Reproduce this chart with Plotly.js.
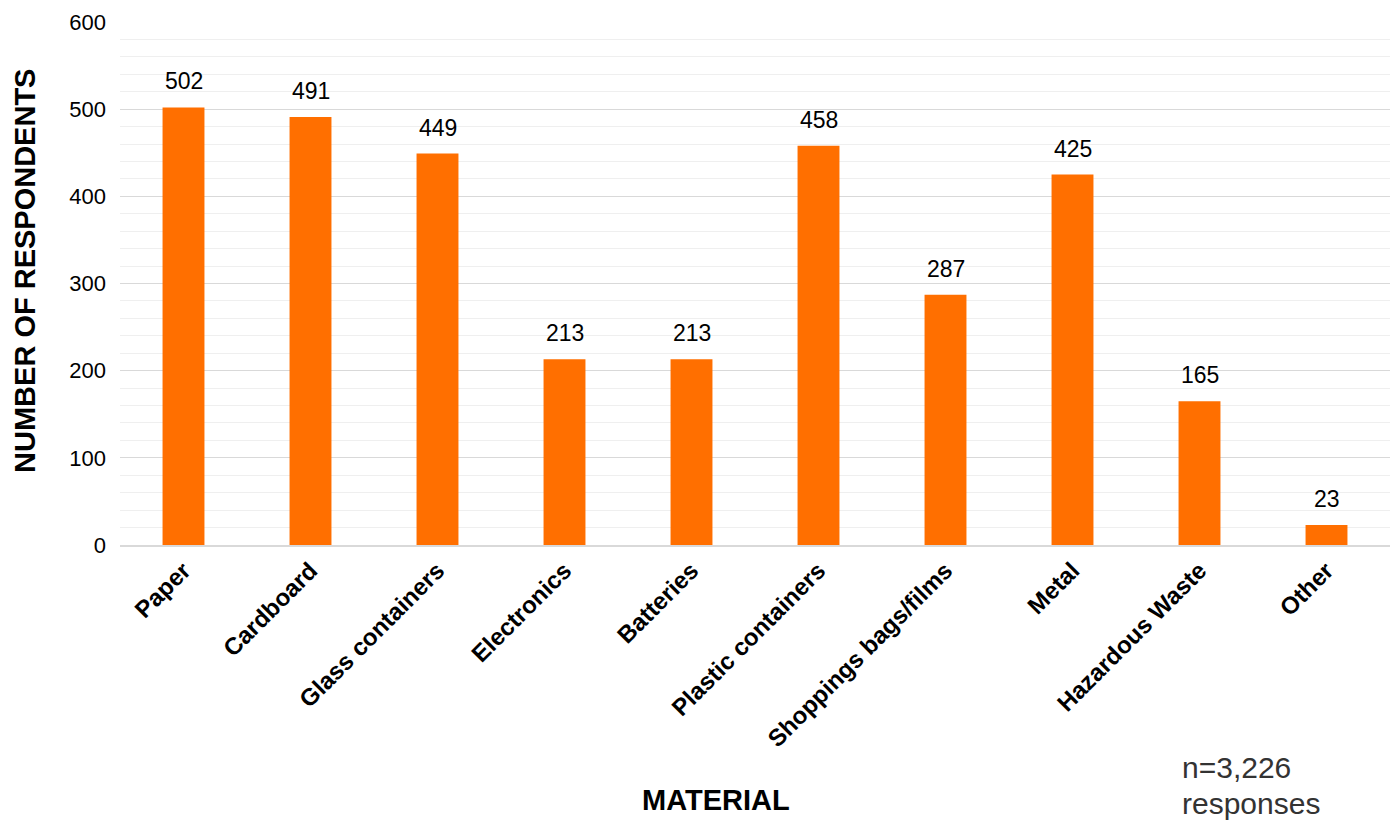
<!DOCTYPE html>
<html>
<head>
<meta charset="utf-8">
<script src="https://cdn.plot.ly/plotly-3.0.1.min.js"></script>
<style>html,body{margin:0;padding:0;background:#fff;}#chart{width:1396px;height:821px;}</style>
</head>
<body>
<div id="chart"></div>
<script>
const categories = ["Paper","Cardboard","Glass containers","Electronics","Batteries","Plastic containers","Shoppings bags/films","Metal","Hazardous Waste","Other"];
const values = [502,491,449,213,213,458,287,425,165,23];
const yTicks = [0,100,200,300,400,500,600];

const FONT = "Liberation Sans, Arial, sans-serif";

const trace = {
  type: "bar",
  x: categories,
  y: values,
  marker: {color: "#FF6F00"},
  width: 0.33,
  hoverinfo: "x+y"
};

const valueLabels = categories.map((c, i) => ({
  xref: "x", yref: "y", x: c, y: values[i],
  xanchor: "center", yanchor: "bottom", yshift: 11,
  text: String(values[i]), showarrow: false,
  font: {family: FONT, size: 23, color: "#000"}
}));

const layout = {
  width: 1396, height: 821,
  margin: {l: 120, r: 6, t: 22, b: 276},
  paper_bgcolor: "#fff", plot_bgcolor: "#fff",
  font: {family: FONT, color: "#000"},
  showlegend: false,
  xaxis: {
    type: "category",
    tickangle: -45,
    tickfont: {size: 24, color: "#000", family: FONT, weight: "bold"},
    showgrid: false,
    showline: true, linecolor: "#d9d9d9", linewidth: 2,
    ticks: ""
  },
  yaxis: {
    range: [0, 600],
    tickvals: yTicks,
    ticktext: yTicks.map(String),
    tickfont: {size: 22, color: "#000"},
    ticklabelstandoff: 13,
    showgrid: true, gridcolor: "#d9d9d9", gridwidth: 1,
    minor: {dtick: 20, showgrid: true, gridcolor: "#efefef", gridwidth: 1},
    zeroline: false,
    ticks: "", ticklen: 0
  },
  annotations: valueLabels.concat([
    {xref: "paper", yref: "paper", x: -0.0748, y: 0.524, xanchor: "center", yanchor: "middle",
     textangle: -90, text: "<b>NUMBER OF RESPONDENTS</b>", showarrow: false,
     font: {family: FONT, size: 29, color: "#000"}},
    {xref: "paper", yref: "paper", x: 0.469, y: -0.4876, xanchor: "center", yanchor: "middle",
     text: "<b>MATERIAL</b>", showarrow: false,
     font: {family: FONT, size: 29, color: "#000"}},
    {xref: "paper", yref: "paper", x: 0.8346, y: -0.4245, xanchor: "left", yanchor: "middle",
     text: "n=3,226", showarrow: false, font: {family: FONT, size: 30, color: "#333"}},
    {xref: "paper", yref: "paper", x: 0.8346, y: -0.4935, xanchor: "left", yanchor: "middle",
     text: "responses", showarrow: false, font: {family: FONT, size: 30, color: "#333"}}
  ])
};

Plotly.newPlot("chart", [trace], layout, {displayModeBar: false, staticPlot: true});
</script>
</body>
</html>
